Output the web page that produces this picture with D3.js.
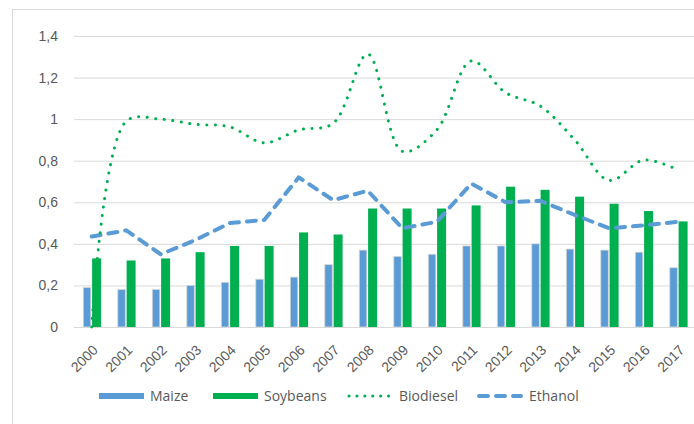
<!DOCTYPE html>
<html>
<head>
<meta charset="utf-8">
<script src="https://cdn.jsdelivr.net/npm/d3@7"></script>
<style>
  body { margin: 0; background: #fff; }
  svg { display: block; font-family: "Open Sans", "Noto Sans", sans-serif; }
</style>
</head>
<body>
<div id="chart"></div>
<script>
const years = ["2000","2001","2002","2003","2004","2005","2006","2007","2008",
  "2009","2010","2011","2012","2013","2014","2015","2016","2017"];
const maize = [0.19,0.18,0.18,0.20,0.215,0.23,0.24,0.30,0.37,0.34,0.35,0.39,0.39,0.40,0.375,0.37,0.36,0.285];
const soybeans = [0.33,0.32,0.33,0.36,0.39,0.39,0.455,0.445,0.57,0.57,0.57,0.585,0.675,0.66,0.627,0.593,0.558,0.508];
const biodiesel = [0.0,0.99,1.0,0.975,0.963,0.886,0.948,0.98,1.313,0.845,0.948,1.28,1.127,1.063,0.90,0.705,0.803,0.755];
const ethanol = [0.435,0.465,0.35,0.418,0.50,0.515,0.72,0.61,0.656,0.475,0.506,0.69,0.60,0.607,0.539,0.475,0.489,0.506];
const yTicks = [0, 0.2, 0.4, 0.6, 0.8, 1, 1.2, 1.4];

const blue = "#5b9bd5";
const green = "#00b050";

const width = 694, height = 424;
const svg = d3.select("#chart").append("svg")
  .attr("width", width)
  .attr("height", height);

// chart frame
svg.append("rect")
  .attr("x", 12.5).attr("y", 9.5)
  .attr("width", 700).attr("height", 430)
  .attr("fill", "none").attr("stroke", "#d9d9d9");

const x = d3.scaleBand().domain(years).range([74.5, 695.5]);
const y = d3.scaleLinear().domain([0, 1.4]).range([327, 36]);

// gridlines + y labels
const yAxis = svg.append("g")
  .attr("transform", "translate(74,0)")
  .call(d3.axisLeft(y).tickValues(yTicks)
    .tickSize(-620)
    .tickPadding(16)
    .tickFormat(d => d3.format(".1~f")(d).replace(".", ",")));
yAxis.select(".domain").remove();
yAxis.selectAll(".tick line").attr("stroke", "#d9d9d9").attr("stroke-width", 1);
yAxis.selectAll(".tick text")
  .attr("fill", "#595959").style("font-size", "14px");

// bars
const bars = svg.append("g");
bars.selectAll(".maize").data(years).join("rect")
  .attr("x", d => x(d) + 8.8)
  .attr("y", (d, i) => y(maize[i]))
  .attr("width", 7.5)
  .attr("height", (d, i) => y(0) - y(maize[i]))
  .attr("fill", blue)
  .attr("stroke", "#d6d6d6").attr("stroke-width", 0.8);
bars.selectAll(".soy").data(years).join("rect")
  .attr("x", d => x(d) + 17.6)
  .attr("y", (d, i) => y(soybeans[i]))
  .attr("width", 9)
  .attr("height", (d, i) => y(0) - y(soybeans[i]))
  .attr("fill", green);

// x axis
const xAxis = svg.append("g")
  .attr("transform", `translate(0,${y(0)})`)
  .call(d3.axisBottom(x).tickSize(0));
xAxis.select(".domain").attr("stroke", "#d9d9d9").attr("d", "M74,0.5H694");
xAxis.selectAll(".tick text")
  .attr("fill", "#595959").style("font-size", "14px")
  .attr("text-anchor", "end")
  .attr("y", 0).attr("dy", 0)
  .attr("transform", "translate(7,24) rotate(-45)");

// lines
const cx = d => x(d) + x.bandwidth() / 2;

const ethLine = d3.line()
  .x((d, i) => cx(years[i]))
  .y(d => y(d));
svg.append("path")
  .attr("d", ethLine(ethanol))
  .attr("fill", "none")
  .attr("stroke", blue)
  .attr("stroke-width", 4)
  .attr("stroke-linecap", "round")
  .attr("stroke-linejoin", "round")
  .attr("stroke-dasharray", "9 8");

const bioLine = d3.line()
  .x((d, i) => cx(years[i]))
  .y(d => y(d))
  .curve(d3.curveCatmullRom.alpha(0.5));
svg.append("path")
  .attr("d", bioLine(biodiesel))
  .attr("fill", "none")
  .attr("stroke", green)
  .attr("stroke-width", 3)
  .attr("stroke-linecap", "round")
  .attr("stroke-dasharray", "0.1 8.5");

// legend
const legendY = 396;
const legend = svg.append("g").style("font-size", "14px").attr("fill", "#595959");
const items = [
  {name: "Maize", x: 99, type: "bar", color: blue},
  {name: "Soybeans", x: 213, type: "bar", color: green},
  {name: "Biodiesel", x: 348, type: "dot", color: green},
  {name: "Ethanol", x: 478, type: "dash", color: blue}
];
items.forEach(it => {
  if (it.type === "bar") {
    legend.append("rect")
      .attr("x", it.x).attr("y", legendY - 3)
      .attr("width", 45).attr("height", 6)
      .attr("fill", it.color);
  } else {
    legend.append("line")
      .attr("x1", it.x + 1).attr("x2", it.x + 43)
      .attr("y1", legendY).attr("y2", legendY)
      .attr("stroke", it.color)
      .attr("stroke-width", it.type === "dot" ? 3 : 4)
      .attr("stroke-linecap", "round")
      .attr("stroke-dasharray", it.type === "dot" ? "0.1 7.8" : "9 8");
  }
  legend.append("text")
    .attr("x", it.x + 51).attr("y", legendY)
    .attr("dy", "0.35em")
    .text(it.name);
});
</script>
</body>
</html>
